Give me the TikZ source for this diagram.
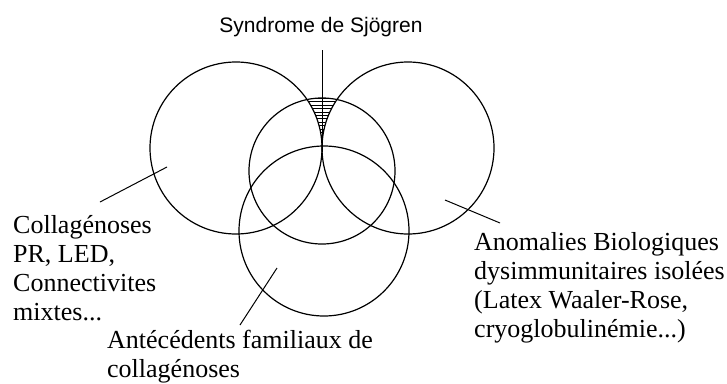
\documentclass[tikz,border=0pt]{standalone}
\usepackage{fontspec}
\setmainfont{Liberation Serif}
\newfontfamily\sansfont{Liberation Sans}
\begin{document}
\begin{tikzpicture}[x=1pt,y=-1pt,
  ring/.style={draw, line width=1.2pt},
  hatchline/.style={line width=0.9pt},
  lbl/.style={inner sep=0pt, anchor=base west, align=left, font=\fontsize{26}{29}\selectfont},
  lead/.style={line width=1pt}]
\useasboundingbox (0,0) rectangle (727,383);
% hatched wedge (Sjogren)
\begin{scope}
  \clip (322,171) circle[radius=73pt];
  \foreach \yy in {98.5,101.9,...,146} \draw[hatchline] (298,\yy) -- (346,\yy);
\end{scope}
\fill[white] (236,148) circle[radius=86pt];
\fill[white] (408,148) circle[radius=86pt];
% circles
\draw[ring] (236,148) circle[radius=86pt];
\draw[ring] (408,148) circle[radius=86pt];
\draw[ring] (322,171) circle[radius=73pt];
\draw[ring] (324,231) circle[radius=85pt];
% labels (base anchor = baseline of the last line)
\node[inner sep=0pt, anchor=base, font=\sansfont\fontsize{21}{25}\selectfont] (sjo) at (321,32) {Syndrome de Sjögren};
\node[lbl] (coll) at (13,320) {Collagénoses\\PR, LED,\\Connectivites\\mixtes...};
\node[lbl] (anom) at (474,337) {Anomalies Biologiques\\dysimmunitaires isolées\\(Latex Waaler-Rose,\\cryoglobulinémie...)};
\node[lbl] (ante) at (107,377) {Antécédents familiaux de\\collagénoses};
% leaders
\coordinate (sjoA) at (322,50);
\coordinate (sjoB) at (322,152);
\coordinate (collA) at (100,202);
\coordinate (collB) at (167,167);
\coordinate (anomA) at (500,223);
\coordinate (anomB) at (445,200);
\coordinate (anteA) at (240,325);
\coordinate (anteB) at (277,268);
\draw[lead] (sjoA) -- (sjoB);
\draw[lead] (collA) -- (collB);
\draw[lead] (anomA) -- (anomB);
\draw[lead] (anteA) -- (anteB);
\end{tikzpicture}
\end{document}
